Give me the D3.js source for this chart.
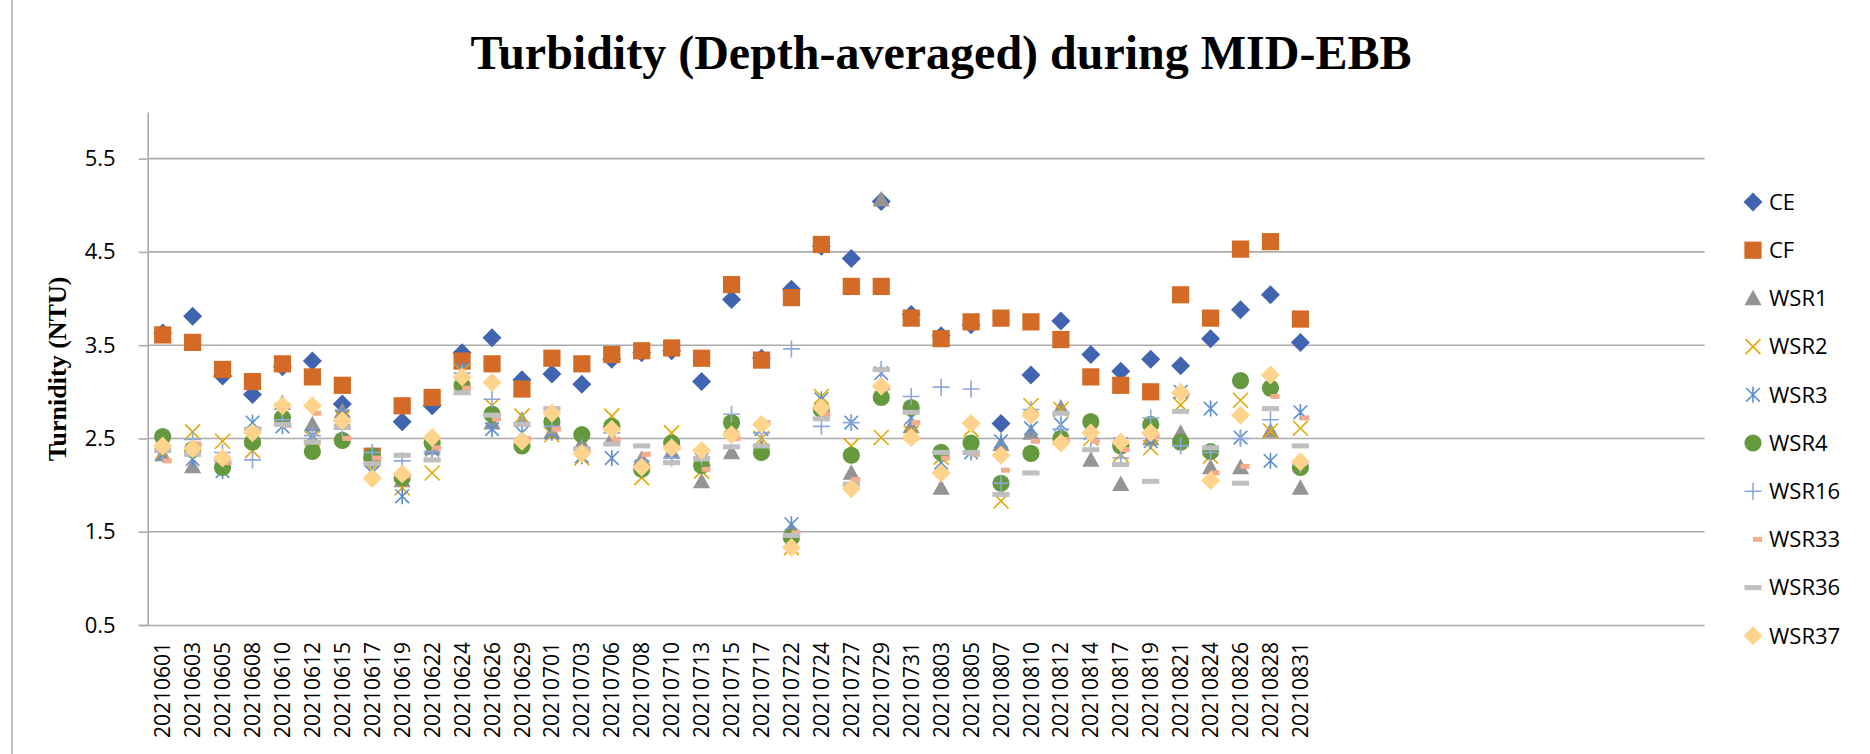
<!DOCTYPE html>
<html>
<head>
<meta charset="utf-8">
<script src="https://cdn.jsdelivr.net/npm/d3@7"></script>
<style>
  html, body { margin: 0; padding: 0; background: #ffffff; }
  svg { display: block; }
</style>
</head>
<body>
<svg id="chart" width="1870" height="754"></svg>
<script>
// ---------- data ----------
const dates = ["20210601","20210603","20210605","20210608","20210610","20210612","20210615","20210617","20210619","20210622","20210624","20210626","20210629",
  "20210701","20210703","20210706","20210708","20210710","20210713","20210715","20210717","20210722","20210724","20210727","20210729","20210731",
  "20210803","20210805","20210807","20210810","20210812","20210814","20210817","20210819","20210821","20210824","20210826","20210828","20210831"];
const emptySlots = 13; // unlabeled categories at the end of the axis

const CE    = [3.63,3.81,3.17,2.97,3.27,3.33,2.87,2.29,2.68,2.85,3.42,3.58,3.13,3.19,3.08,3.35,3.42,3.44,3.11,3.99,3.36,4.10,4.56,4.43,5.04,3.83,3.60,3.72,2.66,3.18,3.76,3.40,3.22,3.35,3.28,3.57,3.88,4.04,3.53];
const CF    = [3.61,3.53,3.24,3.11,3.30,3.16,3.07,2.31,2.85,2.94,3.33,3.30,3.03,3.36,3.30,3.40,3.44,3.47,3.36,4.15,3.34,4.01,4.58,4.13,4.13,3.79,3.57,3.75,3.79,3.75,3.56,3.16,3.07,3.00,4.04,3.79,4.53,4.61,3.78];
const WSR1  = [2.33,2.20,2.25,2.50,2.88,2.65,2.79,2.27,2.05,2.40,3.10,2.67,2.70,2.57,2.45,2.50,2.28,2.36,2.04,2.35,2.40,1.52,2.85,2.13,5.06,2.63,1.97,2.40,2.44,2.56,2.83,2.27,2.01,2.50,2.56,2.19,2.19,2.58,1.97];
const WSR2  = [2.35,2.57,2.47,2.37,2.80,2.50,2.72,2.16,1.97,2.13,3.22,2.85,2.74,2.54,2.29,2.74,2.08,2.56,2.15,2.64,2.50,1.33,2.95,2.42,2.51,2.56,2.30,2.60,1.83,2.85,2.81,2.50,2.33,2.40,2.86,2.31,2.91,2.58,2.61];
const WSR3  = [2.33,2.28,2.15,2.67,2.63,2.53,2.74,2.13,1.88,2.38,3.24,2.60,2.56,2.56,2.31,2.29,2.20,2.35,2.27,2.63,2.60,1.58,2.92,2.67,3.20,2.72,2.24,2.35,2.47,2.61,2.65,2.56,2.44,2.47,3.00,2.82,2.51,2.26,2.78];
const WSR4  = [2.52,2.38,2.19,2.46,2.72,2.36,2.48,2.31,2.08,2.45,3.07,2.76,2.42,2.68,2.54,2.63,2.17,2.45,2.21,2.67,2.35,1.44,2.81,2.32,2.94,2.83,2.35,2.45,2.02,2.34,2.50,2.68,2.42,2.65,2.46,2.36,3.12,3.04,2.19];
const WSR16 = [2.36,2.49,2.35,2.27,2.70,2.53,2.60,2.35,2.26,2.36,3.20,2.92,2.67,2.63,2.40,2.56,2.25,2.29,2.30,2.76,2.56,3.46,2.63,2.67,3.24,2.95,3.05,3.03,2.02,2.81,2.60,2.50,2.29,2.72,2.42,2.35,2.50,2.70,2.22];
const WSR33 = [2.26,2.44,2.24,2.60,2.64,2.77,2.50,2.29,2.10,2.40,3.04,2.71,2.50,2.60,2.38,2.49,2.33,2.40,2.17,2.50,2.67,1.49,2.76,2.06,3.04,2.67,2.29,2.33,2.16,2.47,2.49,2.47,2.38,2.52,2.97,2.13,2.20,2.95,2.72];
const WSR36 = [2.37,2.33,2.27,2.60,2.65,2.46,2.62,2.23,2.32,2.27,2.99,2.75,2.65,2.82,2.39,2.44,2.42,2.24,2.28,2.41,2.42,1.46,2.71,2.01,3.24,2.78,2.35,2.35,1.90,2.13,2.77,2.38,2.22,2.04,2.79,2.40,2.02,2.82,2.42];
const WSR37 = [2.42,2.39,2.29,2.56,2.85,2.85,2.69,2.07,2.12,2.51,3.16,3.10,2.47,2.77,2.34,2.60,2.19,2.40,2.37,2.54,2.65,1.33,2.83,1.96,3.06,2.51,2.13,2.66,2.32,2.75,2.45,2.56,2.46,2.56,2.99,2.05,2.75,3.18,2.25];

const seriesNames = ["CE","CF","WSR1","WSR2","WSR3","WSR4","WSR16","WSR33","WSR36","WSR37"];
const seriesValues = [CE, CF, WSR1, WSR2, WSR3, WSR4, WSR16, WSR33, WSR36, WSR37];
const yTicks = [0.5, 1.5, 2.5, 3.5, 4.5, 5.5];
const titleText = "Turbidity (Depth-averaged) during MID-EBB";
const yTitleText = "Turnidity (NTU)";

// ---------- styles ----------
const styles = {
  CE:    {shape: "diamond",  color: "#4064B0", size: 9.5},
  CF:    {shape: "square",   color: "#D36B27", size: 8.6},
  WSR1:  {shape: "triangle", color: "#949494", size: 8.6},
  WSR2:  {shape: "x",        color: "#E5A800", size: 7.5},
  WSR3:  {shape: "star",     color: "#5B8FD0", size: 8},
  WSR4:  {shape: "circle",   color: "#64993D", size: 8.6},
  WSR16: {shape: "plus",     color: "#8FA8DA", size: 8.5},
  WSR33: {shape: "dashR",    color: "#F4AB8E", size: 9},
  WSR36: {shape: "dash",     color: "#BFBFBF", size: 8.6},
  WSR37: {shape: "diamond",  color: "#FFD38B", size: 9.5}
};

function drawMarker(g, shape, color, r) {
  switch (shape) {
    case "diamond":
      g.append("path").attr("d", `M0,${-r}L${r},0L0,${r}L${-r},0Z`).attr("fill", color);
      break;
    case "square":
      g.append("rect").attr("x", -r).attr("y", -r).attr("width", 2*r).attr("height", 2*r).attr("fill", color);
      break;
    case "triangle":
      g.append("path").attr("d", `M0,${-r}L${r},${r*0.8}L${-r},${r*0.8}Z`).attr("fill", color);
      break;
    case "circle":
      g.append("circle").attr("r", r).attr("fill", color);
      break;
    case "x":
      g.append("path").attr("d", `M${-r},${-r}L${r},${r}M${-r},${r}L${r},${-r}`)
        .attr("stroke", color).attr("stroke-width", 1.6).attr("fill", "none");
      break;
    case "star":
      g.append("path").attr("d", `M${-r*0.85},${-r*0.85}L${r*0.85},${r*0.85}M${-r*0.85},${r*0.85}L${r*0.85},${-r*0.85}M0,${-r}L0,${r}`)
        .attr("stroke", color).attr("stroke-width", 1.6).attr("fill", "none");
      break;
    case "plus":
      g.append("path").attr("d", `M${-r},0L${r},0M0,${-r}L0,${r}`)
        .attr("stroke", color).attr("stroke-width", 1.6).attr("fill", "none");
      break;
    case "dashR":
      g.append("rect").attr("x", 0).attr("y", -2.5).attr("width", r).attr("height", 5).attr("fill", color);
      break;
    case "dash":
      g.append("rect").attr("x", -r).attr("y", -2.5).attr("width", 2*r).attr("height", 5).attr("fill", color);
      break;
  }
}

// ---------- chart ----------
const svg = d3.select("#chart");
svg.append("rect").attr("width", 1870).attr("height", 754).attr("fill", "#ffffff");

// chart border (left edge visible)
svg.append("line").attr("x1", 12).attr("x2", 12).attr("y1", 0).attr("y2", 754)
  .attr("stroke", "#BFBFBF").attr("stroke-width", 2);

const plotLeft = 147.7, plotRight = 1704.6, plotTop = 112, plotBottom = 625;
const categories = dates.concat(d3.range(emptySlots).map(i => "__empty" + i));

const x = d3.scaleBand().domain(categories).range([plotLeft, plotRight]).padding(0);
const y = d3.scaleLinear().domain([0.5, 6.0]).range([plotBottom, plotTop]);

// title
svg.append("text").attr("x", 941).attr("y", 69).attr("text-anchor", "middle")
  .attr("font-family", "'Liberation Serif', 'Times New Roman', serif").attr("font-weight", "bold")
  .attr("font-size", 48).attr("fill", "#000").text(titleText);

// gridlines
svg.append("g").selectAll("line").data(yTicks.filter(t => t > 0.5)).join("line")
  .attr("x1", plotLeft).attr("x2", plotRight)
  .attr("y1", d => y(d)).attr("y2", d => y(d))
  .attr("stroke", "#ABABAB").attr("stroke-width", 1.6);

// y axis
const yAxis = svg.append("g").attr("transform", `translate(${plotLeft},0)`)
  .call(d3.axisLeft(y).tickValues(yTicks).tickSize(9).tickSizeOuter(0).tickPadding(23).tickFormat(d3.format(".1f")));
yAxis.select(".domain").attr("stroke", "#ABABAB").attr("stroke-width", 1.6);
yAxis.selectAll(".tick line").attr("stroke", "#ABABAB").attr("stroke-width", 1.6);
yAxis.selectAll(".tick text").attr("font-family", "'Open Sans', sans-serif").attr("font-size", 22).attr("fill", "#000");

// x axis
const xAxis = svg.append("g").attr("transform", `translate(0,${plotBottom})`)
  .call(d3.axisBottom(x).tickSize(0).tickSizeOuter(0).tickFormat(d => d.startsWith("__") ? "" : d));
xAxis.select(".domain").attr("d", `M${plotLeft - 9},0.5H${plotRight}`).attr("stroke", "#ABABAB").attr("stroke-width", 1.6);
xAxis.selectAll(".tick text")
  .attr("transform", "rotate(-90)")
  .attr("x", -17).attr("y", 0).attr("dy", "0.36em")
  .attr("text-anchor", "end")
  .attr("font-family", "'Open Sans', sans-serif").attr("font-size", 21).attr("fill", "#000");

// y axis title
svg.append("text").attr("transform", "translate(66,369) rotate(-90)")
  .attr("text-anchor", "middle")
  .attr("font-family", "'Liberation Serif', 'Times New Roman', serif").attr("font-weight", "bold")
  .attr("font-size", 26).attr("fill", "#000").text(yTitleText);

// series
seriesNames.forEach((name, si) => {
  const st = styles[name];
  const g = svg.append("g").attr("class", "series-" + name);
  seriesValues[si].forEach((v, i) => {
    if (v == null) return;
    const m = g.append("g").attr("transform", `translate(${x(dates[i]) + x.bandwidth() / 2},${y(v)})`);
    drawMarker(m, st.shape, st.color, st.size);
  });
});

// legend
const legend = svg.append("g");
seriesNames.forEach((name, i) => {
  const st = styles[name];
  const ly = 202 + i * 48.2;
  const m = legend.append("g").attr("transform", `translate(1753,${ly})`);
  drawMarker(m, st.shape, st.color, st.size);
  legend.append("text").attr("x", 1769).attr("y", ly).attr("dy", "0.35em")
    .attr("font-family", "'Open Sans', sans-serif").attr("font-size", 22).attr("fill", "#000").text(name);
});
</script>
</body>
</html>
